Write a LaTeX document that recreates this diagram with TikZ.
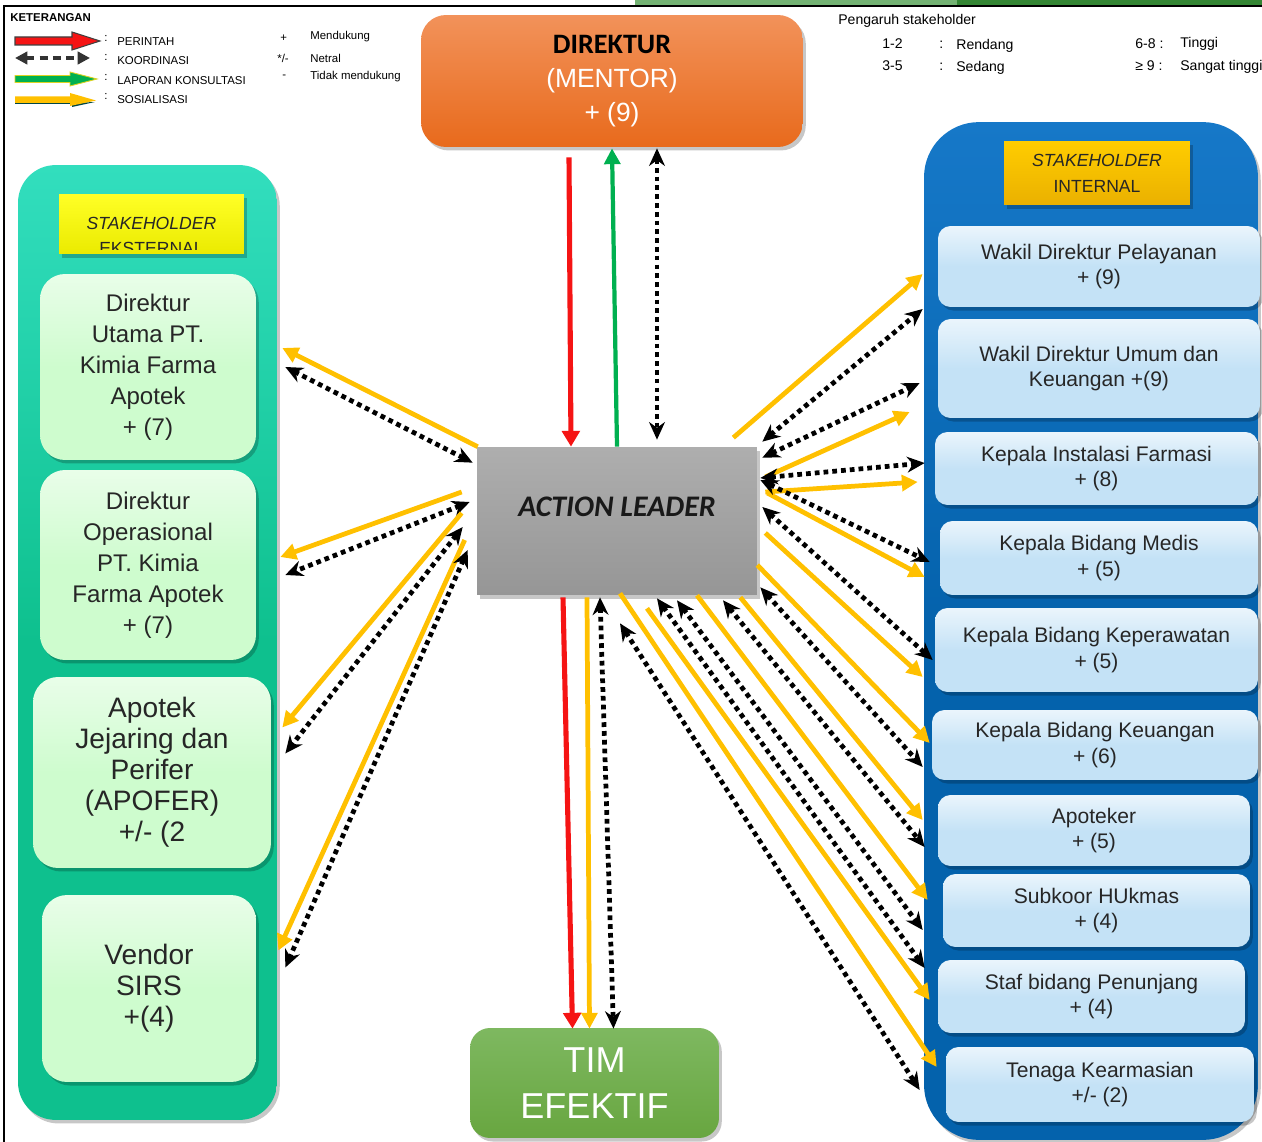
\documentclass[tikz,border=0pt]{standalone}
\usepackage{fontspec}
\setmainfont{Liberation Sans}
\newfontfamily\calibri{Carlito}
\usepackage{tikz}
\usetikzlibrary{
	arrows.meta,
	positioning,
	calc
}
\definecolor{perintahred}{RGB}{245,20,20}
\definecolor{konsulgreen}{RGB}{0,176,80}
\definecolor{sosyellow}{RGB}{255,192,0}
\definecolor{dirtop}{RGB}{242,146,90}
\definecolor{dirbot}{RGB}{232,106,28}
\definecolor{leadtop}{RGB}{174,174,174}
\definecolor{leadbot}{RGB}{150,150,150}
\definecolor{timtop}{RGB}{126,184,96}
\definecolor{timbot}{RGB}{104,166,64}
\definecolor{exttop}{RGB}{50,222,190}
\definecolor{extbot}{RGB}{14,192,142}
\definecolor{extlight}{RGB}{206,252,206}
\definecolor{inttop}{RGB}{22,120,200}
\definecolor{intbot}{RGB}{4,98,172}
\definecolor{intlight}{RGB}{196,226,246}
\definecolor{headorange}{RGB}{255,192,0}

\tikzset{
	softshadow/.style={preaction={fill=black,opacity=0.22,transform canvas={xshift=1.6pt,yshift=-2pt}}},
	dirbox/.style={softshadow,rounded corners=0.5cm,top color=dirtop,bottom color=dirbot,
		minimum width=7.64cm,minimum height=2.64cm,align=center,text=white,
		font=\fontsize{15}{19.5}\selectfont},
	leadbox/.style={softshadow,top color=leadtop,bottom color=leadbot,
		minimum width=5.6cm,minimum height=2.96cm},
	leadtext/.style={font=\calibri\bfseries\itshape\fontsize{17}{20}\selectfont,text=black!90},
	timbox/.style={softshadow,rounded corners=0.4cm,top color=timtop,bottom color=timbot,
		minimum width=4.98cm,minimum height=2.2cm,align=center,text=white,
		font=\fontsize{20.5}{26}\selectfont},
	extpanel/.style={softshadow,rounded corners=0.75cm,top color=exttop,bottom color=extbot,
		middle color=extbot,minimum width=5.18cm,minimum height=19.1cm},
	intpanel/.style={softshadow,rounded corners=1.1cm,top color=inttop,bottom color=intbot,
		middle color=intbot,minimum width=6.68cm,minimum height=20.36cm},
	exthead/.style={softshadow,top color=yellow!85!white,bottom color=yellow!92!black,
		minimum width=3.7cm,minimum height=1.2cm},
	inthead/.style={softshadow,top color=headorange!80!yellow,bottom color=headorange!92!black,
		minimum width=3.72cm,minimum height=1.28cm,align=center,text=black!85,
		font=\fontsize{10}{14.7}\selectfont},
	headtext/.style={align=center,text=black!85,font=\fontsize{10}{14.7}\selectfont},
	extbox/.style={softshadow,rounded corners=0.5cm,top color=extlight!45!white,bottom color=extlight,
		middle color=extlight,align=center,text=black!85,font=\fontsize{13.7}{17.6}\selectfont},
	extboxbig/.style={extbox,font=\fontsize{16}{17.6}\selectfont},
	intbox/.style={softshadow,rounded corners=0.25cm,top color=intlight!35!white,bottom color=intlight,
		middle color=intlight,minimum width=6.44cm,align=center,text=black!85,
		font=\fontsize{12}{14.7}\selectfont},
	legtext/.style={anchor=west,inner sep=0pt,font=\fontsize{6.5}{7}\selectfont},
	infotext/.style={anchor=west,inner sep=0pt,font=\fontsize{8}{9}\selectfont},
	perintah/.style={draw=perintahred,line width=2.9pt,-{Triangle[length=9pt,width=10pt]}},
	konsul/.style={draw=konsulgreen,line width=2.4pt,-{Triangle[length=9pt,width=9pt]}},
	sosial/.style={draw=sosyellow,line width=2.7pt,-{Triangle[length=9pt,width=9pt]}},
	koord/.style={draw=black,line width=2.7pt,dash pattern=on 2.7pt off 2.3pt,
		{Stealth[length=10pt,width=9pt]}-{Stealth[length=10pt,width=9pt]}}
}

\begin{document}
\begin{tikzpicture}[x=0.02cm,y=-0.02cm]
\useasboundingbox (0,0) rectangle (1262,1142);

% frame
\fill[green!45!black!55!white] (635,0) rectangle (957,5);
\fill[green!40!black!80!white] (957,0) rectangle (1262,5);
\draw[black,line width=0.9pt] (4,1142) -- (4,6) -- (1262,6);

% keterangan
\node[legtext,font=\bfseries\fontsize{6.5}{7}\selectfont] (ket) at (10,18) {KETERANGAN};
\filldraw[fill=perintahred,draw=black!75,line width=0.6pt]
	(15,37) -- (72,37) -- (72,32) -- (100,41) -- (72,50) -- (72,45) -- (15,45) -- cycle;
\draw[koord,draw=black!80,line width=2.2pt,dash pattern=on 4.5pt off 3pt,
	{Triangle[length=7pt,width=7pt]}-{Triangle[length=7pt,width=7pt]}] (15,58) -- (90,58);
\filldraw[fill=konsulgreen,draw=yellow!85!black,line width=0.5pt]
	(15,75.5) -- (70,75.5) -- (70,72) -- (97,79) -- (70,86) -- (70,82.5) -- (15,82.5) -- cycle;
\fill[teal!55!black] (15,100) -- (72,100) -- (72,103) -- (95,102) -- (72,107) -- (72,104) -- (15,104) -- cycle;
\fill[sosyellow]
	(15,96.5) -- (70,96.5) -- (70,93) -- (96,100.5) -- (70,106) -- (70,103) -- (15,103) -- cycle;
\node[legtext] (c1) at (104,38) {:};
\node[legtext] (c2) at (104,57) {:};
\node[legtext] (c3) at (104,77) {:};
\node[legtext] (c4) at (104,96) {:};
\node[legtext] (lperintah) at (117,42) {PERINTAH};
\node[legtext] (lkoord) at (117,61) {KOORDINASI};
\node[legtext] (lkonsul) at (117,81) {LAPORAN KONSULTASI};
\node[legtext] (lsosial) at (117,100) {SOSIALISASI};
\node[legtext] (splus) at (280,38) {+};
\node[legtext] (snetral) at (277,58) {*/-};
\node[legtext] (sminus) at (282,77) {-};
\node[legtext] (ldukung) at (310,37) {Mendukung};
\node[legtext] (lnetral) at (310,58) {Netral};
\node[legtext] (ltidak) at (310,77) {Tidak mendukung};

% pengaruh stakeholder
\node[infotext] (pengaruh) at (838,21) {Pengaruh stakeholder};
\node[infotext] (p12) at (882,44) {1-2};
\node[infotext] (p12c) at (939,45) {:};
\node[infotext] (p12t) at (956,46) {Rendang};
\node[infotext] (p35) at (882,66) {3-5};
\node[infotext] (p35c) at (939,67) {:};
\node[infotext] (p35t) at (956,68) {Sedang};
\node[infotext] (p68) at (1135,44) {6-8 :};
\node[infotext] (p68t) at (1180,44) {Tinggi};
\node[infotext] (p9) at (1135,66) {≥ 9 :};
\node[infotext] (p9t) at (1180,67) {Sangat tinggi};

% panels
\node[extpanel] (ext) at (147.5,642.5) {};
\node[exthead] (exthead) at (151.5,224) {};
\begin{scope}
	\clip (exthead.north west) rectangle ($(exthead.south east)+(0,-5)$);
	\node[headtext] (exttitle) at (151.5,236) {\textit{STAKEHOLDER}\\EKSTERNAL};
\end{scope}
\node[intpanel] (int) at (1091,631) {};
\node[inthead] (inthead) at (1097,173) {\textit{STAKEHOLDER}\\INTERNAL};

% stakeholder eksternal
\node[extbox,minimum width=4.32cm,minimum height=3.72cm] (ekst1) at (148,367)
	{Direktur\\Utama PT.\\Kimia Farma\\Apotek\\+ (7)};
\node[extbox,minimum width=4.32cm,minimum height=3.8cm] (ekst2) at (148,565)
	{Direktur\\Operasional\\PT. Kimia\\Farma Apotek\\+ (7)};
\node[extboxbig,minimum width=4.76cm,minimum height=3.82cm] (ekst3) at (152,772.5)
	{Apotek\\Jejaring dan\\Perifer\\(APOFER)\\+/- (2};
\node[extboxbig,minimum width=4.28cm,minimum height=3.74cm] (ekst4) at (149,988.5)
	{Vendor\\SIRS\\+(4)};

% stakeholder internal
\node[intbox,minimum width=6.44cm,minimum height=1.62cm] (int1) at (1099,266.5) {Wakil Direktur Pelayanan\\+ (9)};
\node[intbox,minimum width=6.44cm,minimum height=1.98cm] (int2) at (1099,368.5) {Wakil Direktur Umum dan\\Keuangan +(9)};
\node[intbox,minimum width=6.46cm,minimum height=1.46cm] (int3) at (1096.5,468.5) {Kepala Instalasi Farmasi\\+ (8)};
\node[intbox,minimum width=6.36cm,minimum height=1.48cm] (int4) at (1099,558) {Kepala Bidang Medis\\+ (5)};
\node[intbox,minimum width=6.46cm,minimum height=1.68cm] (int5) at (1096.5,650) {Kepala Bidang Keperawatan\\+ (5)};
\node[intbox,minimum width=6.52cm,minimum height=1.4cm] (int6) at (1095,745) {Kepala Bidang Keuangan\\+ (6)};
\node[intbox,minimum width=6.24cm,minimum height=1.42cm] (int7) at (1094,830.5) {Apoteker\\+ (5)};
\node[intbox,minimum width=6.14cm,minimum height=1.46cm] (int8) at (1096.5,910.5) {Subkoor HUkmas\\+ (4)};
\node[intbox,minimum width=6.14cm,minimum height=1.46cm] (int9) at (1091.5,996.5) {Staf bidang Penunjang\\+ (4)};
\node[intbox,minimum width=6.16cm,minimum height=1.5cm] (int10) at (1100,1084.5) {Tenaga Kearmasian\\+/- (2)};

% centre column
\node[dirbox] (dir) at (612,81)
	{{\calibri\bfseries\fontsize{16}{19.5}\selectfont\color{black}DIREKTUR}\\(MENTOR)\\+ (9)};
\node[leadbox] (lead) at (617,521) {};
\node[leadtext] (leadlabel) at (617,507) {ACTION LEADER};
\node[timbox] (tim) at (594.5,1083) {TIM\\EFEKTIF};

% direktur <-> action leader
\draw[perintah] ($(dir.south)+(-43,10)$) -- ($(lead.north)+(-46,0)$);
\draw[konsul] (lead.north) -- ($(dir.south)+(0,1)$);
\draw[koord] ($(dir.south)+(45,1)$) -- ($(lead.north)+(40,-7)$);

% action leader -> tim efektif
\draw[perintah] ($(lead.south)+(-54,2)$) -- ($(tim.north)+(-22,1)$);
\draw[sosial] ($(lead.south)+(-30,2)$) -- ($(tim.north)+(-5,1)$);
\draw[koord] ($(lead.south)+(-17,2)$) -- ($(tim.north)+(19,1)$);

% eksternal
\draw[sosial] ($(lead.north west)+(1,0)$) -- ($(ekst1.east)+(26,-19)$);
\draw[koord] ($(lead.north west)+(-4,16)$) -- ($(ekst1.east)+(29,0)$);
\draw[sosial] ($(lead.west)+(-15,-29)$) -- ($(ekst2.east)+(24,-8)$);
\draw[koord] ($(lead.west)+(-7,-19)$) -- ($(ekst2.east)+(29,10)$);
\draw[sosial] ($(lead.west)+(-15,-8)$) -- ($(ekst3.east)+(11,-45)$);
\draw[koord] ($(lead.west)+(-14,6)$) -- ($(ekst3.east)+(14,-19)$);
\draw[sosial] ($(lead.west)+(-12,19)$) -- ($(ekst4.east)+(22,-38)$);
\draw[koord] ($(lead.west)+(-9,29)$) -- ($(ekst4.east)+(29,-21)$);

% internal: sosialisasi
\draw[sosial] ($(lead.north east)+(-24,-9)$) -- ($(int1.west)+(-15,7.5)$);
\draw[sosial] ($(lead.east)+(8,-44)$) -- ($(int2.west)+(-28,43.5)$);
\draw[sosial] ($(lead.east)+(8,-29)$) -- ($(int3.west)+(-17,13.5)$);
\draw[sosial] ($(lead.east)+(10,-28)$) -- ($(int4.west)+(-15,19)$);
\draw[sosial] ($(lead.east)+(8,12)$) -- ($(int5.west)+(-12,27)$);
\draw[sosial] ($(lead.east)+(0,44)$) -- ($(int6.west)+(-2,-2)$);
\draw[sosial] ($(lead.south east)+(-17,2)$) -- ($(int7.west)+(-15,-10.5)$);
\draw[sosial] ($(lead.south)+(80,0)$) -- ($(int8.west)+(-15,-10.5)$);
\draw[sosial] ($(lead.south)+(30,13)$) -- ($(int9.west)+(-8,3.5)$);
\draw[sosial] ($(lead.south)+(3,-2)$) -- ($(int10.west)+(-9,-17.5)$);

% internal: koordinasi
\draw[koord] ($(lead.north east)+(5,-5)$) -- ($(int1.west)+(-15,42.5)$);
\draw[koord] ($(lead.north east)+(5,11)$) -- ($(int2.west)+(-18,14.5)$);
\draw[koord] ($(lead.east)+(3,-43)$) -- ($(int3.west)+(-10,-5.5)$);
\draw[koord] ($(lead.east)+(3,-41)$) -- ($(int4.west)+(-10,4)$);
\draw[koord] ($(lead.east)+(5,-14)$) -- ($(int5.west)+(-2,10)$);
\draw[koord] ($(lead.south east)+(3,-8)$) -- ($(int6.west)+(-9,22)$);
\draw[koord] ($(lead.south)+(106,5)$) -- ($(int7.west)+(-13,16.5)$);
\draw[koord] ($(lead.south)+(60,5)$) -- ($(int8.west)+(-20,19.5)$);
\draw[koord] ($(lead.south)+(40,3)$) -- ($(int9.west)+(-13,-28.5)$);
\draw[koord] ($(lead.south)+(3,28)$) -- ($(int10.west)+(-26,5.5)$);

\end{tikzpicture}
\end{document}
